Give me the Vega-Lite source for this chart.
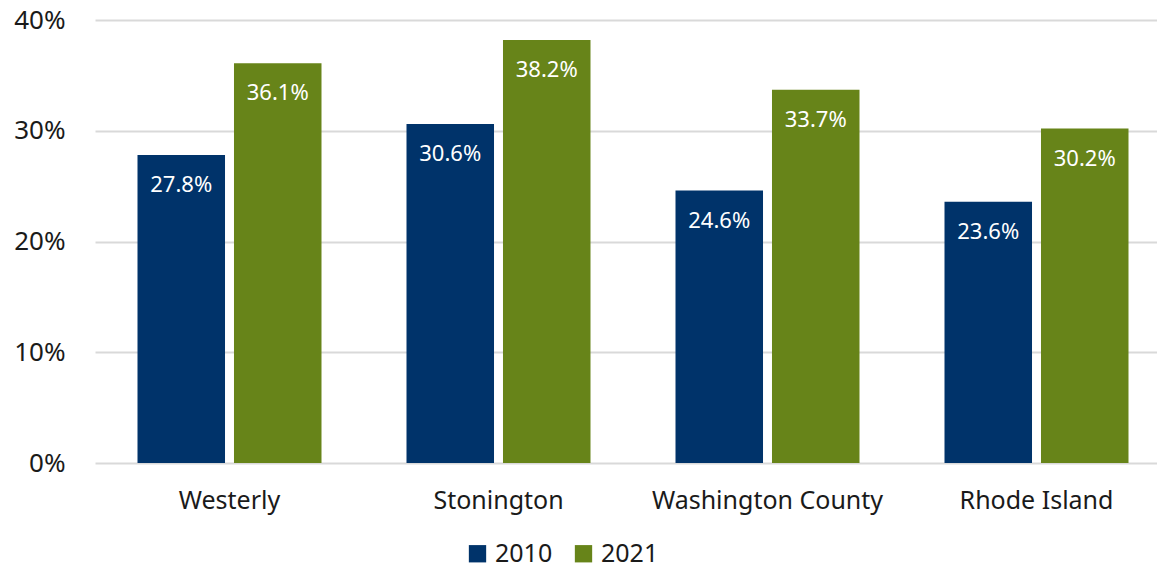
{
  "$schema": "https://vega.github.io/schema/vega-lite/v6.json",
  "autosize": {"type": "none"},
  "width": 1062,
  "height": 443,
  "padding": {"left": 95, "top": 20, "right": 0, "bottom": 105},
  "background": "white",
  "config": {
    "view": {"stroke": null},
    "font": "Noto Sans",
    "axis": {"labelFont": "Noto Sans", "labelColor": "#1a1a1a", "labelFontSize": 25, "ticks": false, "domain": false, "labelLimit": 400}
  },
  "data": {"values": [
    {"place": "Westerly", "year": "2010", "value": 0.278},
    {"place": "Westerly", "year": "2021", "value": 0.361},
    {"place": "Stonington", "year": "2010", "value": 0.306},
    {"place": "Stonington", "year": "2021", "value": 0.382},
    {"place": "Washington County", "year": "2010", "value": 0.246},
    {"place": "Washington County", "year": "2021", "value": 0.337},
    {"place": "Rhode Island", "year": "2010", "value": 0.236},
    {"place": "Rhode Island", "year": "2021", "value": 0.302}
  ]},
  "encoding": {
    "x": {"field": "place", "type": "nominal", "sort": null, "title": null,
      "scale": {"range": [0, 1076], "paddingInner": 0.316, "paddingOuter": 0.158},
      "axis": {"labelAngle": 0, "labelPadding": 25, "grid": false, "labelFontSize": 25}},
    "xOffset": {"field": "year", "type": "nominal",
      "scale": {"paddingInner": 0.093, "paddingOuter": 0}},
    "y": {"field": "value", "type": "quantitative", "title": null,
      "scale": {"domain": [0, 0.4], "nice": false},
      "axis": {"format": ".0%", "values": [0, 0.1, 0.2, 0.3, 0.4], "labelOverlap": false, "labelFlush": false, "labelPadding": 30, "labelFontSize": 26, "gridColor": "#d9d9d9", "gridWidth": 2}}
  },
  "layer": [
    {"mark": {"type": "bar"},
      "encoding": {"color": {"field": "year", "type": "nominal",
        "scale": {"domain": ["2010", "2021"], "range": ["#00336a", "#678419"]},
        "legend": {"title": null, "orient": "none", "direction": "horizontal", "legendX": 370, "legendY": 521,
          "symbolType": "square", "symbolSize": 300, "symbolStrokeWidth": 0, "labelFontSize": 25, "labelFont": "Noto Sans", "labelColor": "#1a1a1a", "columnPadding": 18, "labelOffset": 5}}}},
    {"mark": {"type": "text", "color": "white", "fontSize": 22, "baseline": "top", "dy": 20, "font": "Noto Sans"},
      "encoding": {"text": {"field": "value", "type": "quantitative", "format": ".1%"}}}
  ]
}
